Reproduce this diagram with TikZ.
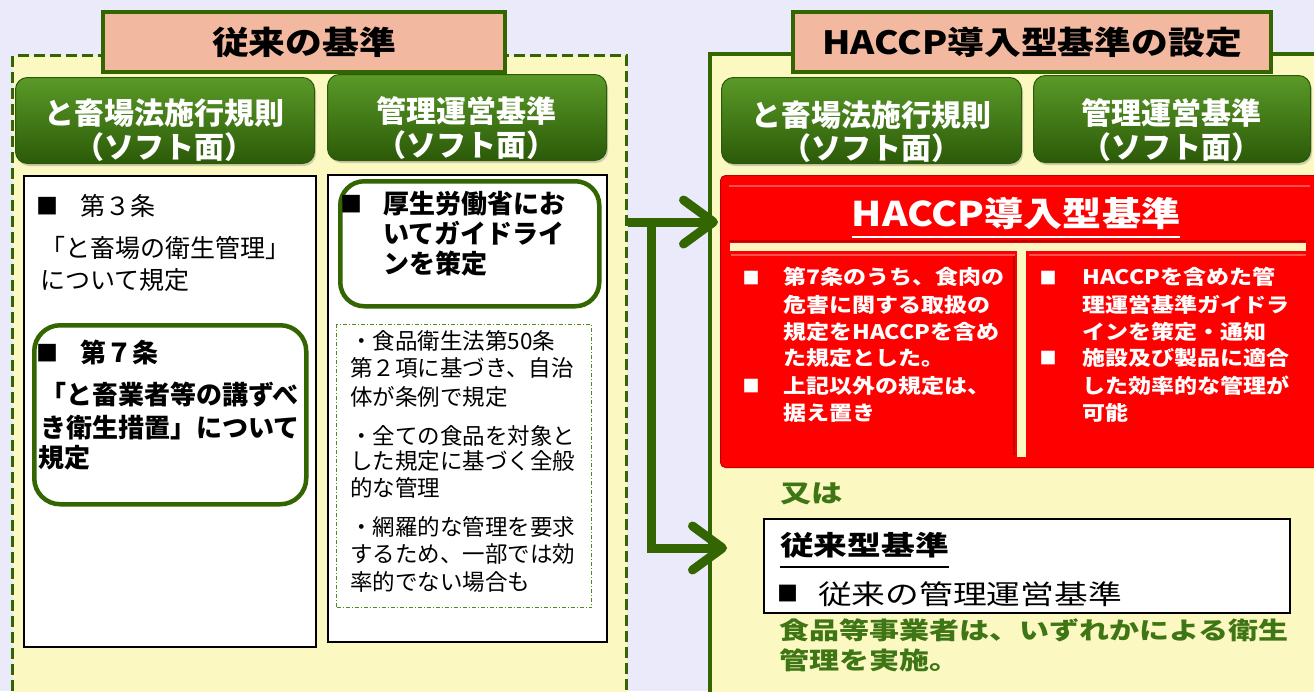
\documentclass[tikz,border=0pt]{standalone}
\usepackage{fontspec}
\setmainfont{Noto Sans CJK JP}
\newfontfamily\jpA{Noto Sans CJK JP}[FakeStretch=1.15]
\newfontfamily\jpB{Noto Sans CJK JP}[FakeStretch=1.25]
\usetikzlibrary{arrows.meta,shadows}
\definecolor{bgc}{HTML}{EAEAFA}
\definecolor{pale}{HTML}{FCF8C2}
\definecolor{dgreen}{HTML}{336600}
\definecolor{salm}{HTML}{F2B9A0}
\definecolor{btop}{HTML}{5A9A28}
\definecolor{bbot}{HTML}{2C5A08}
\definecolor{tgreen}{HTML}{3F7615}
\definecolor{hred}{HTML}{FF0000}
\definecolor{dred}{HTML}{C00000}
\definecolor{lred}{HTML}{FF5050}
\definecolor{ddgreen}{HTML}{4E8A1E}
\newcommand{\fsz}[1]{\fontsize{#1}{#1}\selectfont}
\begin{document}
\begin{tikzpicture}[x=1pt,y=-1pt,
  tx/.style={inner sep=0pt, anchor=west, text height=0.88*#1pt, text depth=0.12*#1pt},
  ctx/.style={inner sep=0pt, text height=0.88*#1pt, text depth=0.12*#1pt},
  box/.style={inner sep=0pt, anchor=north west},
  titlebox/.style={box, fill=salm, draw=dgreen, line width=4pt, font=\jpA\fsz{32}\bfseries},
  btn/.style={box, rounded corners=12pt, top color=btop, bottom color=bbot, draw=bbot, line width=1pt,
    drop shadow={opacity=0.35, shadow xshift=1.5pt, shadow yshift=-2.5pt}},
  btntxt/.style={ctx=30, text=white, font=\fsz{30}\bfseries},
  wbox/.style={box, fill=white, draw=black, line width=2pt},
  gbox/.style={box, rounded corners=26pt, draw=dgreen, line width=4.5pt},
  arr/.style={draw=dgreen, line width=9pt, -{Straight Barb[length=30pt,width=44pt,round]}},
  sq/.style={ctx=22, font=\fsz{22}},
  lt/.style={tx=25, font=\fsz{25}},
  lb/.style={tx=26, font=\fsz{26}\bfseries},
  rt/.style={tx=22.5, font=\fsz{22.5}},
  redt/.style={tx=20, text=white, font=\jpA\fsz{20}\bfseries},
  redsq/.style={ctx=17, text=white, font=\fsz{17}},
]
\useasboundingbox (0,0) rectangle (1314,691);
\clip (0,0) rectangle (1314,691);
\fill[bgc] (0,0) rectangle (1314,691);

% ---------- left panel ----------
\node[box, fill=pale, draw=dgreen, line width=3pt, dash pattern=on 11pt off 5pt,
  minimum width=614pt, minimum height=660pt] (lp) at (11,54) {};
\node[titlebox, minimum width=402pt, minimum height=60pt] (t1) at (101,10) {従来の基準};

\node[btn, minimum width=299pt, minimum height=86pt] (b1) at (15,77) {};
\node[btntxt] (b1a) at (164.5,113) {と畜場法施行規則};
\node[btntxt] (b1b) at (164.5,147) {（ソフト面）};
\node[btn, minimum width=279pt, minimum height=86pt] (b2) at (327,74) {};
\node[btntxt] (b2a) at (466.5,111) {管理運営基準};
\node[btntxt] (b2b) at (466.5,145) {（ソフト面）};

\node[wbox, minimum width=292pt, minimum height=471pt] (wl) at (23,175) {};
\node[wbox, minimum width=279pt, minimum height=467pt] (wr) at (327,174) {};

% left white box content
\node[sq] (sq1) at (47,206) {■};
\node[lt] (a1) at (80,206) {第３条};
\node[lt] (a2) at (40,248) {「と畜場の衛生管理」};
\node[lt] (a3) at (40,280) {について規定};
\node[gbox, minimum width=272pt, minimum height=179pt] (g1) at (32,323) {};
\node[sq] (sq2) at (47,353) {■};
\node[lb] (a4) at (80,353) {第７条};
\node[lb] (a5) at (40,395) {「と畜業者等の講ずべ};
\node[lb] (a6) at (40,428) {き衛生措置」について};
\node[lb] (a7) at (38,458) {規定};

% right white box content
\node[gbox, rounded corners=24pt, minimum width=259pt, minimum height=125pt] (g2) at (338,179) {};
\node[sq] (sq3) at (351,204) {■};
\node[lb] (c1) at (383,204) {厚生労働省にお};
\node[lb] (c2) at (383,234) {いてガイドライ};
\node[lb] (c3) at (383,264) {ンを策定};
\node[box, draw=ddgreen, line width=1pt, dash pattern=on 4pt off 2pt on 1pt off 2pt,
  minimum width=255pt, minimum height=283pt] (dd) at (336,324) {};
\node[rt] (d1) at (350,341) {・食品衛生法第50条};
\node[rt] (d2) at (350,368) {第２項に基づき、自治};
\node[rt] (d3) at (350,397) {体が条例で規定};
\node[rt] (d4) at (350,436) {・全ての食品を対象と};
\node[rt] (d5) at (350,461) {した規定に基づく全般};
\node[rt] (d6) at (350,488) {的な管理};
\node[rt] (d7) at (350,527) {・網羅的な管理を要求};
\node[rt] (d8) at (350,554) {するため、一部では効};
\node[rt] (d9) at (350,582) {率的でない場合も};

% ---------- right panel ----------
\node[box, fill=pale, draw=dgreen, line width=4pt,
  minimum width=640pt, minimum height=660pt] (rp) at (708,52) {};
\node[titlebox, minimum width=478pt, minimum height=60pt] (t2) at (791,10) {HACCP導入型基準の設定};

\node[btn, minimum width=300pt, minimum height=86pt] (b3) at (721,77) {};
\node[btntxt] (b3a) at (871,115) {と畜場法施行規則};
\node[btntxt] (b3b) at (871,148) {（ソフト面）};
\node[btn, minimum width=277pt, minimum height=87pt] (b4) at (1033,75) {};
\node[btntxt] (b4a) at (1171.5,113) {管理運営基準};
\node[btntxt] (b4b) at (1171.5,147) {（ソフト面）};

% red HACCP box
\node[box, fill=hred, draw=dred, line width=1pt, rounded corners=5pt,
  minimum width=600pt, minimum height=292pt] (haccp) at (720,175) {};
\draw[lred, line width=1.2pt] (729,186) -- (1310,186);
\draw[dred, line width=1.2pt] (729,241) -- (1306,241);
\fill[pale] (730,243) rectangle (1306,251);
\fill[pale] (1017,251) rectangle (1026,457);
\draw[lred, line width=1.2pt] (731,255) -- (1015,255);
\draw[lred, line width=1.2pt] (1029,255) -- (1306,255);
\draw[dred, line width=1.2pt] (1014,256) -- (1014,455);
\node[ctx=34, text=white, font=\jpA\fsz{34}\bfseries] (ht) at (1016,214) {HACCP導入型基準};
\coordinate (ul1) at (0,237);
\draw[white, line width=2pt] (ht.west |- ul1) -- (ht.east |- ul1);

\node[redsq] (r0) at (751,278) {■};
\node[redt] (r1) at (783,277) {第7条のうち、食肉の};
\node[redt] (r2) at (783,305) {危害に関する取扱の};
\node[redt] (r3) at (783,332) {規定をHACCPを含め};
\node[redt] (r4) at (783,358) {た規定とした。};
\node[redsq] (r5s) at (751,386) {■};
\node[redt] (r5) at (783,386) {上記以外の規定は、};
\node[redt] (r6) at (783,413) {据え置き};

\node[redsq] (s0) at (1048,278) {■};
\node[redt] (s1) at (1082,277) {HACCPを含めた管};
\node[redt] (s2) at (1082,305) {理運営基準ガイドラ};
\node[redt] (s3) at (1082,332) {インを策定・通知};
\node[redsq] (s4s) at (1048,358) {■};
\node[redt] (s4) at (1082,358) {施設及び製品に適合};
\node[redt] (s5) at (1082,386) {した効率的な管理が};
\node[redt] (s6) at (1082,413) {可能};

% "or" and traditional box
\node[tx=25, text=tgreen, font=\jpB\fsz{25}\bfseries] (or) at (780,493) {又は};
\node[wbox, minimum width=526pt, minimum height=94pt] (old) at (763,518) {};
\node[tx=27, font=\jpB\fsz{27}\bfseries] (o1) at (780,545) {従来型基準};
\coordinate (ul2) at (0,567);
\draw[black, line width=2pt] (o1.west |- ul2) -- (o1.east |- ul2);
\node[ctx=21, font=\fsz{21}] (o2) at (788,594) {■};
\node[tx=27, font=\jpB\fsz{27}] (o3) at (818,594) {従来の管理運営基準};

\node[tx=24, text=tgreen, font=\jpB\fsz{24}\bfseries] (f1) at (779,630) {食品等事業者は、いずれかによる衛生};
\node[tx=24, text=tgreen, font=\jpB\fsz{24}\bfseries] (f2) at (779,660) {管理を実施。};

% ---------- arrows ----------
\coordinate (j) at (651,222);
\coordinate (tipA) at (718,222);
\coordinate (tipB) at (727,548);
\draw[arr] (lp.east |- j) -- (tipA);
\draw[arr] (j) |- (tipB);
\end{tikzpicture}
\end{document}
